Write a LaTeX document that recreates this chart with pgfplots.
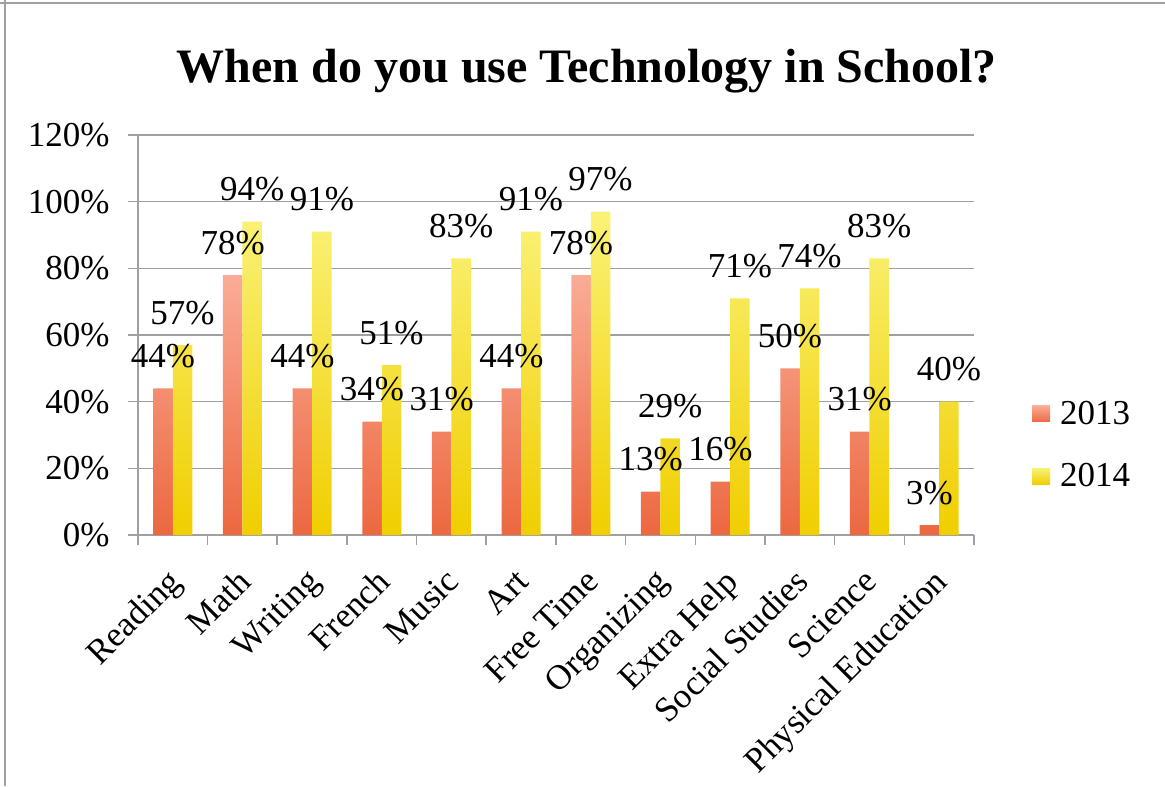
\documentclass[border=0pt]{standalone}
\usepackage{pgfplots}
\pgfplotsset{compat=1.18}
\usepackage{fontspec}
\setmainfont{Liberation Serif}

\definecolor{gridgray}{RGB}{160,160,160}
\definecolor{redtop}{RGB}{250,172,150}
\definecolor{redbot}{RGB}{236,104,64}
\definecolor{yeltop}{RGB}{250,242,120}
\definecolor{yelbot}{RGB}{240,206,0}

\begin{document}
\begin{tikzpicture}
\begin{axis}[
    scale only axis,
    width=418pt, height=200pt,
    xmin=-0.5, xmax=11.5,
    ymin=0, ymax=120,
    ybar=0pt,
    bar width=9.75pt,
    axis lines*=left,
    axis line style={gridgray, line width=0.8pt},
    ytick={0,20,...,120},
    yticklabel={\pgfmathprintnumber{\tick}\%},
    ymajorgrids=true,
    grid style={gridgray, line width=0.8pt},
    xtick={0,...,11},
    xticklabels={Reading, Math, Writing, French, Music, Art, Free Time,
      Organizing, Extra Help, Social Studies, Science, Physical Education},
    minor xtick={-0.5,0.5,...,11.5},
    major x tick style={draw=none},
    tick align=outside,
    tick style={gridgray, line width=0.8pt},
    major tick length=5pt,
    minor tick length=5pt,
    /pgf/number format/assume math mode=true,
    tick label style={font=\fontsize{17.5}{20}\selectfont, black},
    xticklabel style={rotate=45, anchor=north east, inner sep=2pt, xshift=-8pt, yshift=-3pt},
    yticklabel style={inner sep=2pt, xshift=-7pt},
    nodes near coords={\pgfmathprintnumber{\pgfplotspointmeta}\%},
    nodes near coords style={font=\fontsize{17.5}{20}\selectfont, anchor=base, inner sep=0pt, yshift=10.5pt, black},
    legend style={draw=none, fill=none, at={(rel axis cs:1.062,0.225)}, anchor=west,
      font=\fontsize{17.5}{20}\selectfont, row sep=14pt},
    legend cell align=left,
    legend image code/.code={\path[#1] (0pt,-4pt) rectangle (9pt,4pt);},
    clip=false,
]
\addplot[draw=none, top color=redtop, bottom color=redbot] coordinates {
  (0,44) (1,78) (2,44) (3,34) (4,31) (5,44) (6,78) (7,13) (8,16) (9,50) (10,31) (11,3)
};
\addplot[draw=none, top color=yeltop, bottom color=yelbot] coordinates {
  (0,57) (1,94) (2,91) (3,51) (4,83) (5,91) (6,97) (7,29) (8,71) (9,74) (10,83) (11,40)
};
\legend{\hspace{3pt}2013, \hspace{3pt}2014}
\node[anchor=base, font=\fontsize{24}{28}\selectfont\bfseries] at (rel axis cs:0.537,1.13) {When do you use Technology in School?};
\coordinate (tl) at (rel axis cs:-0.165,1.3375);
\coordinate (br) at (rel axis cs:1.2285,-0.6275);
\end{axis}
\pgfresetboundingbox
\path[use as bounding box] (tl) rectangle (br);
\draw[gridgray, line width=1pt] ([yshift=-1.5pt]tl -| br) -- ([yshift=-1.5pt]tl) ;
\draw[gridgray, line width=1pt] ([xshift=2.5pt]tl) -- ([xshift=2.5pt]tl |- br);
\end{tikzpicture}
\end{document}
